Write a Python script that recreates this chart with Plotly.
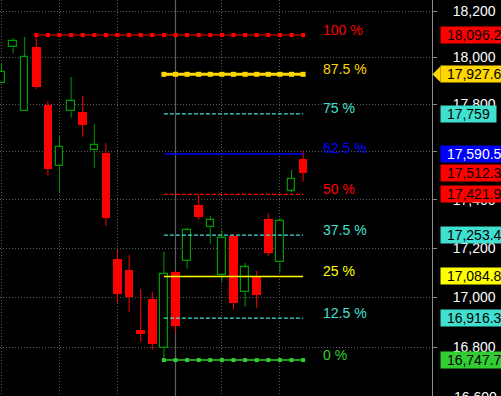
import math
import plotly.graph_objects as go

# ---------------- data ----------------
opens = [17890, 18043, 17770, 18045, 17796, 17539, 17770, 17767, 17606, 17595,
         17156, 17111, 16868, 16993, 16795, 17103, 17147, 17378, 17286, 17092,
         17251, 17023, 17087, 17320, 17142, 17437, 17570]
highs = [17976, 18083, 18088, 18096.2, 17814, 17666, 17916, 17835, 17717, 17637,
         17193, 17172, 17034, 17022, 17185, 17108, 17284, 17424, 17333, 17275,
         17258, 17140, 17107, 17345, 17324, 17524, 17603]
lows = [17890, 18018, 17770, 17864, 17500, 17429, 17743, 17663, 17533, 17293,
        16978, 16942, 16821, 16789, 16747.7, 16857, 17116, 17317, 17219, 17063,
        16950, 16962, 16958, 17169, 17100, 17431, 17475]
closes = [17938, 18069, 18000, 17875, 17529, 17620, 17813, 17714, 17627, 17326,
          17015, 17003, 16853, 16813, 17094, 16886, 17274, 17330, 17315, 17241,
          16978, 17122, 17011, 17182, 17312, 17486, 17512.3]

fib_pcts = ["100 %", "87.5 %", "75 %", "62.5 %", "50 %", "37.5 %", "25 %", "12.5 %", "0 %"]
fib_levels = [18096.2, 17927.6, 17759, 17590.5, 17421.9, 17253.4, 17084.8, 16916.3, 16747.7]
price_ticks = [16800, 17000, 17200, 17400, 17600, 17800, 18000, 18200]
edge_tick = 16600   # tick just below the visible range, its label half shown
swing_high_idx = 3
swing_low_idx = 14
week_start_idx = [0, 5, 10, 19, 24]
cursor_idx = 15
last_price = closes[-1]

# ---------------- styles ----------------
RED = "#ff0000"
GOLD = "#ffd700"
TURQ = "#40e0d0"
BLUE = "#0000ff"
YEL = "#ffff00"
LIME = "#32cd32"
CANDLE_GREEN = "#009a00"
FONT = "Liberation Sans, Arial, sans-serif"

fib_style = {
    "100 %":  dict(color=RED,  dash="solid",   width=1.2, marker=4, text=RED,  box=RED,  boxtext="#000000"),
    "87.5 %": dict(color=GOLD, dash="solid",   width=3,   marker=5, text=GOLD, box=GOLD, boxtext="#000000"),
    "75 %":   dict(color=TURQ, dash="4px,2px", width=1.3, marker=0, text=TURQ, box=TURQ, boxtext="#000000"),
    "62.5 %": dict(color=BLUE, dash="solid",   width=1.6, marker=0, text=BLUE, box=BLUE, boxtext="#ffffff"),
    "50 %":   dict(color=RED,  dash="4px,2px", width=1.3, marker=0, text=RED,  box=RED,  boxtext="#000000"),
    "37.5 %": dict(color=TURQ, dash="4px,2px", width=1.3, marker=0, text=TURQ, box=TURQ, boxtext="#000000"),
    "25 %":   dict(color=YEL,  dash="solid",   width=1.5, marker=0, text=YEL,  box=YEL,  boxtext="#000000"),
    "12.5 %": dict(color=TURQ, dash="4px,2px", width=1.3, marker=0, text=TURQ, box=TURQ, boxtext="#000000"),
    "0 %":    dict(color=LIME, dash="solid",   width=1.5, marker=4, text=LIME, box=LIME, boxtext="#000000"),
}

W, H = 501, 396
PLOT_W = 432
PX_PER_CANDLE = 11.6
FIRST_CENTER_PX = 1.5
x0 = -FIRST_CENTER_PX / PX_PER_CANDLE
x_range = [x0, x0 + PLOT_W / PX_PER_CANDLE]
y_range_log = [4.22024, 4.26121]   # log10 price range (log-scaled price axis)
TICK_LABEL_GAP = 21                # px from axis line to tick label start


def fmt_price(v):
    s = f"{v:,.1f}"
    return s[:-2] if s.endswith(".0") else s


def text_width(s, size=14):
    w = 0
    for ch in s:
        w += 0.556 if ch.isdigit() else 0.278
    return w * size


n = len(opens)
idx = list(range(n))

fig = go.Figure()

# wicks (split around body so hollow bodies stay empty)
for up in (True, False):
    xs, ys = [], []
    for i in idx:
        o, h, l, c = opens[i], highs[i], lows[i], closes[i]
        if (c >= o) != up:
            continue
        top, bot = max(o, c), min(o, c)
        if h > top:
            xs += [i, i, None]
            ys += [h, top, None]
        if l < bot:
            xs += [i, i, None]
            ys += [bot, l, None]
    fig.add_trace(go.Scatter(x=xs, y=ys, mode="lines",
                             line=dict(color=CANDLE_GREEN if up else RED, width=1),
                             hoverinfo="skip", showlegend=False))

# bodies
up_i = [i for i in idx if closes[i] >= opens[i]]
dn_i = [i for i in idx if closes[i] < opens[i]]
fig.add_trace(go.Bar(x=up_i, base=[opens[i] for i in up_i],
                     y=[closes[i] - opens[i] for i in up_i],
                     width=0.64, marker=dict(color="#000000",
                                             line=dict(color=CANDLE_GREEN, width=1.2)),
                     showlegend=False, hoverinfo="skip"))
fig.add_trace(go.Bar(x=dn_i, base=[closes[i] for i in dn_i],
                     y=[opens[i] - closes[i] for i in dn_i],
                     width=0.75, marker=dict(color=RED, line=dict(width=0)),
                     showlegend=False, hoverinfo="skip"))

# fib lines
last = n - 1
for pct, lvl in zip(fib_pcts, fib_levels):
    st = fib_style[pct]
    start = swing_high_idx if pct == "100 %" else swing_low_idx
    xs = list(range(start, last + 1))
    ys = [lvl] * len(xs)
    mode = "lines+markers" if st["marker"] else "lines"
    fig.add_trace(go.Scatter(
        x=xs, y=ys, mode=mode,
        line=dict(color=st["color"], width=st["width"], dash=st["dash"]),
        marker=dict(symbol="square", size=st["marker"], color=st["color"]),
        showlegend=False, hoverinfo="skip"))

annotations = []
shapes = []

# fib % labels (annotations on a log axis take log10 positions)
for pct, lvl in zip(fib_pcts, fib_levels):
    st = fib_style[pct]
    annotations.append(dict(
        x=last, y=math.log10(lvl), xref="x", yref="y", text=pct, showarrow=False,
        xanchor="left", yanchor="middle", xshift=18, yshift=5.5,
        font=dict(family=FONT, size=14, color=st["text"])))

# half-visible tick label at the bottom edge
edge_frac = (math.log10(edge_tick) - y_range_log[0]) / (y_range_log[1] - y_range_log[0])
annotations.append(dict(
    x=1, y=edge_frac, xref="paper", yref="paper", text=f"{edge_tick:,}",
    showarrow=False, xanchor="left", yanchor="middle", xshift=TICK_LABEL_GAP,
    borderpad=0, font=dict(family=FONT, size=14, color="#ffffff")))

# price boxes on axis
boxes = [(lvl, fib_style[p]["box"], fib_style[p]["boxtext"]) for p, lvl in zip(fib_pcts, fib_levels)]
boxes.append((last_price, RED, "#000000"))
for lvl, bg, fg in boxes:
    t = fmt_price(lvl)
    annotations.append(dict(
        x=1, y=math.log10(lvl), xref="paper", yref="y", text=t, showarrow=False,
        xanchor="left", yanchor="middle", xshift=7.5,
        width=text_width(t) + 12, height=16, borderpad=0, align="center",
        bgcolor=bg, font=dict(family=FONT, size=14, color=fg)))

# arrow pointer on the 87.5 % box
shapes.append(dict(
    type="path", xref="paper", yref="y",
    xsizemode="pixel", ysizemode="pixel",
    xanchor=1, yanchor=fib_levels[1],
    path="M 0.5,0 L 8.5,8 L 8.5,-8 Z",
    fillcolor=GOLD, line=dict(width=0), layer="above"))

# cursor line
shapes.append(dict(type="line", xref="x", yref="paper",
                   x0=cursor_idx, x1=cursor_idx, y0=0, y1=1,
                   line=dict(color="#5e5e5e", width=1.2), layer="below"))

fig.update_layout(
    width=W, height=H, autosize=False,
    margin=dict(l=0, r=W - PLOT_W, t=0, b=0, pad=0),
    paper_bgcolor="#000000", plot_bgcolor="#000000",
    barmode="overlay", bargap=0,
    showlegend=False,
    annotations=annotations, shapes=shapes,
    xaxis=dict(range=x_range, tickvals=week_start_idx, showticklabels=False,
               ticks="", showgrid=True, gridcolor="#5a5a5a", gridwidth=1,
               griddash="1px,2px", zeroline=False, showline=False, fixedrange=True),
    yaxis=dict(type="log", range=y_range_log, side="right",
               tickvals=price_ticks, ticktext=[f"{v:,}" for v in price_ticks],
               ticks="outside", ticklen=4, tickcolor="#8c8c8c",
               showline=True, linecolor="#8c8c8c", linewidth=1,
               showgrid=True, gridcolor="#5a5a5a", gridwidth=1, griddash="1px,2px",
               zeroline=False, ticklabelstandoff=13,
               tickfont=dict(family=FONT, size=14, color="#ffffff"), fixedrange=True),
)

fig.write_html("out.html", config={"displayModeBar": False})
